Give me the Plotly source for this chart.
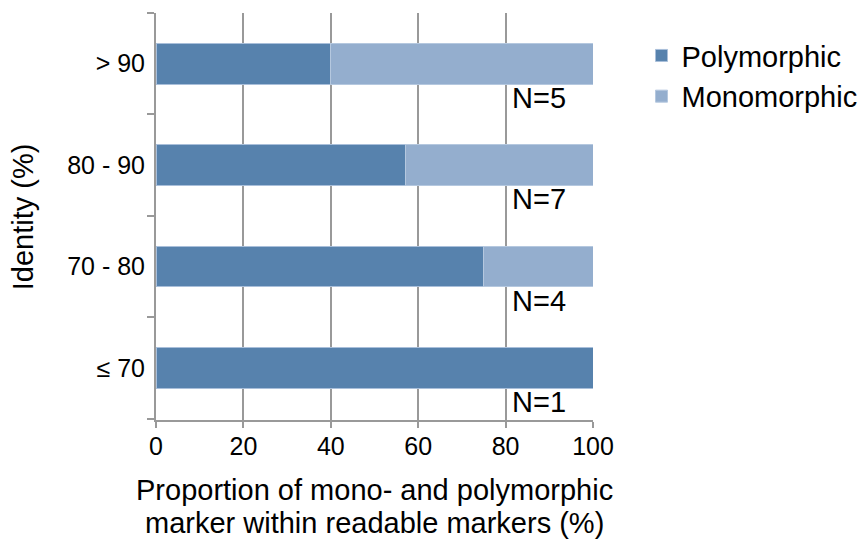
import plotly.graph_objects as go

categories = ["≤ 70", "70 - 80", "80 - 90", "> 90"]
polymorphic = [100.0, 75.0, 57.14, 40.0]
monomorphic = [0.0, 25.0, 42.86, 60.0]
n_labels = ["N=1", "N=4", "N=7", "N=5"]
x_ticks = [0, 20, 40, 60, 80, 100]
x_title_lines = ["Proportion of mono- and polymorphic", "marker within readable markers (%)"]
y_title = "Identity (%)"

FONT = "Liberation Sans, Arial, sans-serif"
GREY = "#999999"
BIG = 29

fig = go.Figure()
fig.add_trace(go.Bar(
    y=categories, x=polymorphic, orientation="h", name="Polymorphic",
    marker=dict(color="#5782AD", line=dict(color="#A9BFDA", width=1)),
))
fig.add_trace(go.Bar(
    y=categories, x=monomorphic, orientation="h", name="Monomorphic",
    marker=dict(color="#94AECE", line=dict(color="#B5C8DF", width=1)),
))

for cat, lab in zip(categories, n_labels):
    fig.add_annotation(x=87.7, y=cat, text=lab, showarrow=False, yshift=-34,
                       font=dict(size=BIG, color="black", family=FONT))

# axis titles as annotations (tight line spacing)
fig.add_annotation(xref="paper", yref="paper", x=0.5, y=-0.173, yanchor="middle",
                   text=x_title_lines[0], showarrow=False,
                   font=dict(size=BIG, color="black", family=FONT))
fig.add_annotation(xref="paper", yref="paper", x=0.5, y=-0.254, yanchor="middle",
                   text=x_title_lines[1], showarrow=False,
                   font=dict(size=BIG, color="black", family=FONT))
fig.add_annotation(xref="paper", yref="paper", x=-0.305, y=0.5, xanchor="center",
                   yanchor="middle", textangle=-90,
                   text=y_title, showarrow=False,
                   font=dict(size=BIG, color="black", family=FONT))

# page body has an 8px margin: figure is 8px smaller and margins shifted
fig.update_layout(
    width=859, height=531,
    barmode="stack", bargap=0.6,
    paper_bgcolor="white", plot_bgcolor="white",
    margin=dict(l=148, r=271, t=5, b=119),
    font=dict(family=FONT, size=25, color="black"),
    legend=dict(x=1.111, y=0.958, xanchor="left", yanchor="top",
                font=dict(size=BIG), traceorder="normal",
                entrywidth=30, entrywidthmode="pixels"),
    showlegend=True,
)
fig.update_xaxes(
    range=[0, 100], tickvals=x_ticks, showgrid=True, gridcolor=GREY, gridwidth=2,
    showline=True, linecolor=GREY, linewidth=2, ticks="outside", ticklen=6,
    tickcolor=GREY, tickwidth=2, zeroline=False, automargin=False,
    tickfont=dict(size=25), ticklabelstandoff=-3,
)
fig.update_yaxes(
    categoryorder="array", categoryarray=categories,
    showline=True, linecolor=GREY, linewidth=2, ticks="outside", ticklen=7,
    tickcolor=GREY, tickwidth=2, tickson="boundaries", showgrid=False,
    automargin=False, tickfont=dict(size=25), ticklabelstandoff=4,
)

fig.write_html("out.html")
